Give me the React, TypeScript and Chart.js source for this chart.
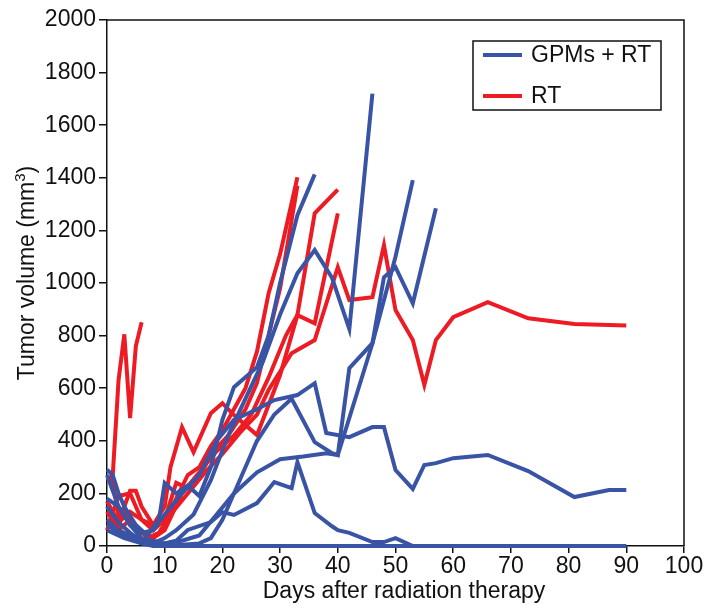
import React, { useEffect, useRef } from "react";
import { Chart, registerables } from "chart.js";

Chart.register(...registerables);

// ---- data: [day, volume mm^3] ----
const gpmA: [number, number][] = [[0,100],[2,60],[4,40],[6,20],[8,10],[10,30],[12,60],[15,120],[18,250],[21,420],[24,560],[27,700],[30,880],[33,1037],[36,1125],[39,1020],[42,825],[46,1720]];
const gpmB: [number, number][] = [[0,290],[1,270],[2,200],[3,150],[5,80],[7,40],[9,100],[10,240],[12,200],[14,230],[16,190],[18,300],[20,480],[22,604],[26,680],[28,800],[30,1000],[33,1258],[36,1413]];
const gpmC: [number, number][] = [[0,180],[2,150],[4,80],[6,30],[8,20],[10,10],[13,20],[16,40],[19,120],[22,200],[26,280],[30,330],[34,340],[38,353],[40,346],[46,770],[50,1100],[53,1391]];
const gpmD: [number, number][] = [[0,150],[2,90],[4,50],[6,20],[8,5],[10,0],[13,5],[16,10],[18,30],[20,100],[23,250],[26,400],[29,500],[32,560],[36,395],[39,353],[40,346],[42,676],[46,771],[48,1022],[50,1060],[53,923],[57,1284]];
const gpmE: [number, number][] = [[0,270],[2,150],[4,80],[6,50],[8,60],[10,120],[13,200],[16,270],[19,400],[22,480],[26,520],[29,555],[33,574],[36,619],[38,430],[42,414],[46,452],[48,452],[50,289],[53,217],[55,308],[57,315],[60,334],[66,346],[73,285],[81,186],[87,213],[90,213]];
const gpmF: [number, number][] = [[0,80],[2,50],[4,30],[6,10],[8,0],[12,0],[20,0],[30,0],[40,0],[53,0],[60,0],[70,0],[80,0],[90,0]];
const gpmG: [number, number][] = [[0,60],[3,30],[6,10],[9,5],[12,20],[14,61],[18,91],[20,129],[22,118],[26,163],[29,243],[32,220],[33,319],[36,125],[39,75],[40,60],[42,50],[46,15],[48,15],[50,30],[53,0]];

const rtA: [number, number][] = [[0,250],[1,270],[2,630],[3,805],[4,486],[5,760],[6,851]];
const rtB: [number, number][] = [[0,255],[1,250],[2,110],[3,150],[4,210],[5,210],[6,150],[8,80],[10,90],[12,180],[14,270],[16,300],[18,380],[20,440],[22,520],[24,600],[26,740],[28,960],[30,1110],[33,1402]];
const rtC: [number, number][] = [[0,170],[2,90],[4,130],[6,100],[8,60],[10,100],[12,240],[14,220],[16,260],[18,350],[21,420],[24,520],[26,620],[28,800],[30,980],[33,1370]];
const rtD: [number, number][] = [[0,130],[2,60],[4,100],[6,50],[8,30],[10,60],[13,200],[16,280],[19,360],[22,420],[25,500],[28,640],[31,800],[33,878],[36,1265],[40,1355]];
const rtE: [number, number][] = [[0,60],[2,190],[4,200],[6,100],[8,80],[10,150],[11,300],[13,452],[15,357],[18,505],[20,543],[22,498],[26,422],[30,650],[33,878],[36,847],[40,1265]];
const rtF: [number, number][] = [[0,150],[2,80],[3,130],[5,80],[7,30],[9,50],[11,120],[14,200],[17,280],[20,350],[23,430],[26,500],[28,593],[32,733],[36,783],[40,1060],[42,935],[46,946],[48,1144],[50,897],[53,783],[55,612],[57,783],[60,870],[66,927],[73,866],[81,844],[90,838]];

const gpmSeries = [gpmA, gpmB, gpmC, gpmD, gpmE, gpmF, gpmG];
const rtSeries = [rtA, rtB, rtC, rtD, rtE, rtF];

const groupLabels = ["GPMs + RT", "RT"];
const xTicks = { min: 0, max: 100, step: 10 };
const yTicks = { min: 0, max: 2000, step: 200 };

const BLUE = "#3a54a5";
const RED = "#ed1c24";
const INK = "#111111";
const FONT = "'Liberation Sans', Arial, sans-serif";
const FS = 23;

const toPoints = (s: [number, number][]) => s.map(([x, y]) => ({ x, y }));

const overlay = {
  id: "overlay",
  afterDraw(chart: any) {
    const { ctx, chartArea } = chart;
    ctx.save();
    // frame top/right
    ctx.strokeStyle = INK;
    ctx.lineWidth = 1.5;
    ctx.beginPath();
    ctx.moveTo(chartArea.left, chartArea.top);
    ctx.lineTo(chartArea.right, chartArea.top);
    ctx.lineTo(chartArea.right, chartArea.bottom);
    ctx.stroke();

    // legend
    const lx = 473, ly = 41, lw = 188, lh = 69;
    ctx.fillStyle = "#fff";
    ctx.fillRect(lx, ly, lw, lh);
    ctx.strokeStyle = INK;
    ctx.lineWidth = 1.5;
    ctx.strokeRect(lx, ly, lw, lh);
    const rows = [
      { label: groupLabels[0], color: BLUE, y: 55 },
      { label: groupLabels[1], color: RED, y: 96 },
    ];
    ctx.font = `${FS}px ${FONT}`;
    ctx.textBaseline = "middle";
    ctx.textAlign = "left";
    rows.forEach((r) => {
      ctx.strokeStyle = r.color;
      ctx.lineWidth = 4;
      ctx.beginPath();
      ctx.moveTo(483, r.y);
      ctx.lineTo(522, r.y);
      ctx.stroke();
      ctx.fillStyle = INK;
      ctx.fillText(r.label, 531, r.y + 1);
    });

    // axis titles
    ctx.fillStyle = INK;
    ctx.font = `${FS}px ${FONT}`;
    ctx.textAlign = "center";
    ctx.textBaseline = "middle";
    ctx.fillText("Days after radiation therapy", 404, 592);

    ctx.save();
    ctx.translate(28, 273);
    ctx.rotate(-Math.PI / 2);
    const main = "Tumor volume (mm";
    const sup = "3";
    const close = ")";
    ctx.font = `${FS}px ${FONT}`;
    const wMain = ctx.measureText(main).width;
    const wClose = ctx.measureText(close).width;
    ctx.font = `15px ${FONT}`;
    const wSup = ctx.measureText(sup).width;
    const total = wMain + wSup + wClose;
    const x0 = -total / 2;
    ctx.textAlign = "left";
    ctx.font = `${FS}px ${FONT}`;
    ctx.fillText(main, x0, 0);
    ctx.font = `15px ${FONT}`;
    ctx.fillText(sup, x0 + wMain, -7);
    ctx.font = `${FS}px ${FONT}`;
    ctx.fillText(close, x0 + wMain + wSup, 0);
    ctx.restore();

    ctx.restore();
  },
};

export default function App() {
  const ref = useRef<HTMLCanvasElement | null>(null);

  useEffect(() => {
    if (!ref.current) return;
    const datasets = [
      ...gpmSeries.map((s) => ({
        label: groupLabels[0],
        data: toPoints(s),
        borderColor: BLUE,
        backgroundColor: BLUE,
        borderWidth: 4,
        pointRadius: 0,
        tension: 0,
        clip: 6,
      })),
      ...rtSeries.map((s) => ({
        label: groupLabels[1],
        data: toPoints(s),
        borderColor: RED,
        backgroundColor: RED,
        borderWidth: 4,
        pointRadius: 0,
        tension: 0,
        clip: 6,
      })),
    ];
    const chart = new Chart(ref.current, {
      type: "line",
      data: { datasets },
      options: {
        animation: false,
        responsive: false,
        layout: { padding: { left: 0, top: 20, right: 20, bottom: 0 } },
        plugins: { legend: { display: false }, tooltip: { enabled: false } },
        scales: {
          x: {
            type: "linear",
            min: xTicks.min,
            max: xTicks.max,
            ticks: { stepSize: xTicks.step, color: INK, font: { family: FONT, size: FS }, padding: 0, maxRotation: 0, callback: (v: any) => String(v) },
            grid: { display: true, drawOnChartArea: false, drawTicks: true, tickLength: 7, color: INK, lineWidth: 1.5 },
            border: { display: true, color: INK, width: 1.5 },
            afterFit: (s: any) => { s.height = 63; },
          },
          y: {
            type: "linear",
            min: yTicks.min,
            max: yTicks.max,
            ticks: { stepSize: yTicks.step, color: INK, font: { family: FONT, size: FS }, padding: 3, callback: (v: any) => String(v) },
            grid: { display: true, drawOnChartArea: false, drawTicks: true, tickLength: 8, color: INK, lineWidth: 1.5 },
            border: { display: true, color: INK, width: 1.5 },
            afterFit: (s: any) => { s.width = 107; },
          },
        },
      },
      plugins: [overlay],
    });
    return () => chart.destroy();
  }, []);

  return (
    <div style={{ position: "fixed", left: 0, top: 0, width: 704, height: 609, background: "#fff" }}>
      <canvas ref={ref} width={704} height={609} style={{ width: 704, height: 609 }} />
    </div>
  );
}
